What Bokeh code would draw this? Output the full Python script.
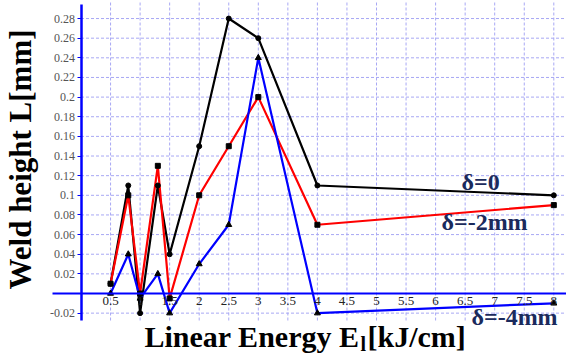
import math
from bokeh.plotting import figure
from bokeh.models import FixedTicker, Label, Range1d
from bokeh.embed import file_html
from bokeh.resources import INLINE

# ---- data ----
energy = [0.5, 0.8, 1.0, 1.3, 1.5, 2.0, 2.5, 3.0, 4.0, 8.0]
height_d0 = [0.01, 0.11, -0.02, 0.11, 0.04, 0.15, 0.28, 0.26, 0.11, 0.10]
height_d2 = [0.01, 0.10, 0.0, 0.13, -0.005, 0.10, 0.15, 0.20, 0.07, 0.09]
height_d4 = [0.0, 0.04, -0.005, 0.02, -0.02, 0.03, 0.07, 0.24, -0.02, -0.01]

x_ticks = [0.5, 1.0, 1.5, 2.0, 2.5, 3.0, 3.5, 4.0, 4.5, 5.0, 5.5, 6.0, 6.5, 7.0, 7.5, 8.0]
x_tick_labels = ["0.5", "1", "1.5", "2", "2.5", "3", "3.5", "4", "4.5", "5",
                 "5.5", "6", "6.5", "7", "7.5", "8"]
y_ticks = [-0.02, 0.02, 0.04, 0.06, 0.08, 0.10, 0.12, 0.14, 0.16, 0.18,
           0.20, 0.22, 0.24, 0.26, 0.28]
y_tick_labels = ["-0.02", "0.02", "0.04", "0.06", "0.08", "0.1", "0.12", "0.14",
                 "0.16", "0.18", "0.2", "0.22", "0.24", "0.26", "0.28"]
grid_y = [-0.02, 0.0] + y_ticks[1:]

series_labels = ["δ=0", "δ=-2mm", "δ=-4mm"]
x_title_main = "Linear Energy E"
x_title_sub = "l"
x_title_unit = "[kJ/cm]"
y_title = "Weld height L[mm]"

FONT = "Liberation Serif"
NAVY = "#1b2a5c"

# pixel <-> data helpers for layout of annotations (plot area: x=0 at px 80.5, y=0 at py 293)
def px_x(px):
    return (px - 80.5) / 59.1

def px_y(py):
    return (293 - py) / 982.0

X0, X1 = px_x(0), px_x(566)
Y0, Y1 = px_y(356), px_y(0)
AREA_BOTTOM = px_y(320)

p = figure(width=566, height=356, x_range=Range1d(X0, X1), y_range=Range1d(Y0, Y1),
           output_backend="svg", toolbar_location=None,
           min_border_left=0, min_border_right=0, min_border_top=0, min_border_bottom=0)
p.outline_line_color = None
p.background_fill_color = "white"
p.border_fill_color = "white"
p.grid.visible = False

# grid lines restricted to plot area
n_h = len(grid_y)
p.segment(x0=[0.0] * n_h, y0=grid_y, x1=[X1] * n_h, y1=grid_y,
          line_color="#a8a8f4", line_dash="3 2", line_width=1)
n_v = len(x_ticks)
p.segment(x0=x_ticks, y0=[AREA_BOTTOM] * n_v, x1=x_ticks, y1=[Y1] * n_v,
          line_color="#a8a8f4", line_dash="3 2", line_width=1)

# x axis at y = 0
xa = p.xaxis[0]
xa.fixed_location = 0
xa.bounds = (px_x(52), X1)
xa.ticker = FixedTicker(ticks=x_ticks)
xa.major_label_overrides = {t: s for t, s in zip(x_ticks, x_tick_labels)}
xa.axis_line_color = "blue"
xa.axis_line_width = 2
xa.major_tick_in = 0
xa.major_tick_out = 0
xa.minor_tick_line_color = None
xa.major_label_standoff = 3
xa.major_label_text_font = FONT
xa.major_label_text_font_size = "13px"
xa.major_label_text_color = "#222222"

# y axis at x = 0
ya = p.yaxis[0]
ya.fixed_location = 0
ya.bounds = (AREA_BOTTOM, px_y(4))
ya.ticker = FixedTicker(ticks=y_ticks)
ya.major_label_overrides = {t: s for t, s in zip(y_ticks, y_tick_labels)}
ya.axis_line_color = "blue"
ya.axis_line_width = 2.5
ya.major_tick_line_color = "blue"
ya.major_tick_in = 0
ya.major_tick_out = 4
ya.minor_tick_line_color = None
ya.major_label_standoff = 2
ya.major_label_text_font = FONT
ya.major_label_text_font_size = "12px"
ya.major_label_text_color = "#555555"

# series
p.line(energy, height_d0, line_color="black", line_width=2.2)
p.line(energy, height_d2, line_color="red", line_width=2.2)
p.line(energy, height_d4, line_color="blue", line_width=2.2)
p.scatter(energy, height_d0, marker="circle", size=5, color="black")
p.scatter(energy, height_d2, marker="square", size=5, color="black")
p.scatter(energy, height_d4, marker="triangle", size=6, color="black")

for txt, lx, ly in zip(series_labels, [461, 441, 471], [181, 221, 316]):
    p.add_layout(Label(x=px_x(lx), y=px_y(ly), text=txt, text_font=FONT,
                       text_font_style="bold", text_font_size="24px",
                       text_color=NAVY, text_baseline="alphabetic"))

p.add_layout(Label(x=px_x(359), y=px_y(336), text=x_title_main, text_font=FONT,
                   text_font_style="bold", text_font_size="30px", text_color="black",
                   text_align="right", text_baseline="alphabetic"))
p.add_layout(Label(x=px_x(360), y=px_y(343), text=x_title_sub, text_font=FONT,
                   text_font_style="bold", text_font_size="20px", text_color="black",
                   text_align="left", text_baseline="alphabetic"))
p.add_layout(Label(x=px_x(367), y=px_y(336), text=x_title_unit, text_font=FONT,
                   text_font_style="bold", text_font_size="30px", text_color="black",
                   text_align="left", text_baseline="alphabetic"))
p.add_layout(Label(x=px_x(20), y=px_y(159), text=y_title, text_font=FONT,
                   text_font_style="bold", text_font_size="31px", text_color="black",
                   text_align="center", text_baseline="alphabetic", angle=math.pi / 2))

open("out.html", "w").write(file_html(p, INLINE))
